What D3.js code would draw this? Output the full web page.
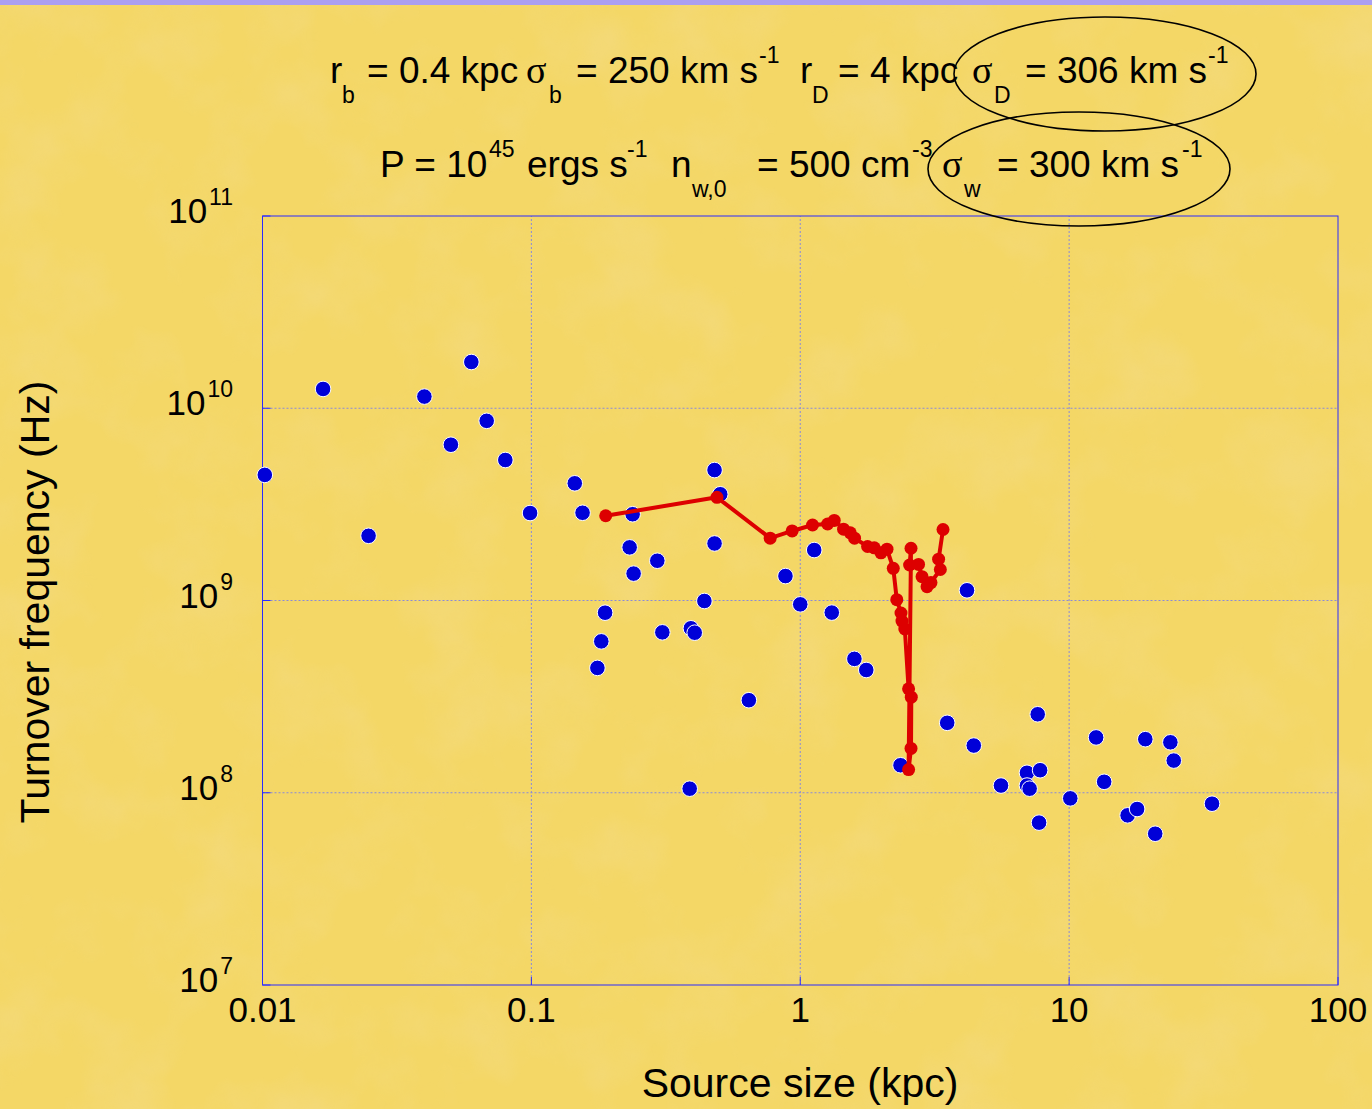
<!DOCTYPE html>
<html>
<head>
<meta charset="utf-8">
<script src="https://d3js.org/d3.v7.min.js"></script>
<style>
body { margin: 0; background: #f3d664; }
svg { display: block; }
text { font-family: "Liberation Sans", Arial, sans-serif; fill: #000; }
.sym { font-family: "Liberation Serif", "Times New Roman", serif; }
.frame { fill: none; stroke: #2a2aff; stroke-width: 1; }
.grid { stroke: #8a8ad8; stroke-width: 1; stroke-dasharray: 2,2; }
.tick { stroke: #2a2aff; stroke-width: 1; }
.circ { fill: none; stroke: #000; stroke-width: 1.6; }
</style>
</head>
<body>
<svg width="1372" height="1109"></svg>
<script>

// source size (kpc) and turnover frequency (Hz)
var obsSize = [0.0102, 0.0168, 0.0248, 0.040, 0.0502, 0.0598, 0.0682, 0.080, 0.0989, 0.145,
    0.155, 0.238, 0.232, 0.240, 0.294, 0.307, 0.188, 0.182, 0.176, 0.392,
    0.405, 0.440, 0.480, 0.504, 0.480, 0.644, 0.388, 0.881, 1.0, 1.127,
    1.31, 1.59, 1.76, 2.36, 4.17, 3.52, 4.42, 5.58, 6.97, 6.97,
    7.13, 7.64, 7.80, 7.73, 10.1, 12.6, 13.5, 16.5, 17.9, 19.2,
    20.9, 23.8, 24.5, 34.0];
var obsFreq = [4.5e9, 1.26e10, 2.17e9, 1.15e10, 6.46e9, 1.74e10, 8.6e9, 5.38e9, 2.85e9, 4.07e9,
    2.86e9, 2.81e9, 1.89e9, 1.38e9, 1.61e9, 6.83e8, 8.64e8, 6.13e8, 4.46e8, 7.17e8,
    6.8e8, 9.94e8, 4.77e9, 3.57e9, 1.98e9, 3.03e8, 1.05e8, 1.34e9, 9.55e8, 1.83e9,
    8.65e8, 4.97e8, 4.35e8, 1.39e8, 1.13e9, 2.31e8, 1.76e8, 1.09e8, 1.27e8, 1.09e8,
    1.05e8, 2.56e8, 1.31e8, 6.99e7, 9.35e7, 1.94e8, 1.14e8, 7.63e7, 8.23e7, 1.9e8,
    6.12e7, 1.83e8, 1.47e8, 8.77e7];

// model track
var modelSize = [0.189, 0.490, 0.773, 0.933, 1.111, 1.264, 1.338, 1.449, 1.535, 1.592,
    1.780, 1.885, 1.996, 2.102, 2.218, 2.286, 2.370, 2.39, 2.449, 2.529,
    2.588, 2.582, 2.529, 2.582, 2.551, 2.754, 2.838, 2.962, 3.063, 3.319,
    3.27, 3.396];
var modelFreq = [2.76e9, 3.44e9, 2.11e9, 2.30e9, 2.47e9, 2.50e9, 2.61e9, 2.35e9, 2.25e9, 2.11e9,
    1.91e9, 1.88e9, 1.77e9, 1.85e9, 1.47e9, 1.01e9, 8.61e8, 7.82e8, 7.11e8, 3.47e8,
    3.14e8, 1.70e8, 1.32e8, 1.87e9, 1.53e9, 1.54e9, 1.33e9, 1.18e9, 1.24e9, 1.45e9,
    1.64e9, 2.34e9];

var xTicks = [0.01, 0.1, 1, 10, 100];
var xTickLabels = ["0.01", "0.1", "1", "10", "100"];
var yTicks = [1e7, 1e8, 1e9, 1e10, 1e11];

// title pieces: text, kind (0 normal, 1 superscript, -1 subscript, 2 greek), left edge
var titleLine1 = [
  ["r", 0, 330], ["b", -1, 342], ["= 0.4 kpc", 0, 367], ["σ", 2, 526], ["b", -1, 549],
  ["= 250 km s", 0, 576], ["-1", 1, 759], ["r", 0, 800], ["D", -1, 812], ["= 4 kpc", 0, 838],
  ["σ", 2, 972], ["D", -1, 994], ["= 306 km s", 0, 1025], ["-1", 1, 1208]
];
var titleLine2 = [
  ["P = 10", 0, 380], ["45", 1, 489], ["ergs s", 0, 527], ["-1", 1, 627], ["n", 0, 671],
  ["w,0", -1, 692], ["= 500 cm", 0, 757], ["-3", 1, 912], ["σ", 2, 942], ["w", -1, 964],
  ["= 300 km s", 0, 997], ["-1", 1, 1182]
];

var svg = d3.select("svg"),
    width = +svg.attr("width"),
    height = +svg.attr("height");

// paper texture
var defs = svg.append("defs");
var f = defs.append("filter").attr("id", "paper")
    .attr("x", 0).attr("y", 0).attr("width", "100%").attr("height", "100%");
f.append("feTurbulence").attr("type", "fractalNoise")
    .attr("baseFrequency", "0.012").attr("numOctaves", 4).attr("seed", 7);
f.append("feColorMatrix").attr("type", "matrix")
    .attr("values", "0 0 0 0 0.90  0 0 0 0 0.72  0 0 0 0 0.28  1.6 0 0 0 -0.72");
svg.append("rect").attr("width", width).attr("height", height).attr("fill", "#f4d766");
svg.append("rect").attr("width", width).attr("height", height)
    .attr("filter", "url(#paper)").attr("opacity", 0.6);
svg.append("rect").attr("width", width).attr("height", 5).attr("fill", "#ab9ff0");

var x = d3.scaleLog().domain([0.01, 100]).range([262.5, 1338]);
var y = d3.scaleLog().domain([1e7, 1e11]).range([985, 216]);

// grid
svg.append("g").selectAll("line").data(yTicks.slice(1, -1)).enter().append("line")
    .attr("class", "grid")
    .attr("x1", x.range()[0]).attr("x2", x.range()[1])
    .attr("y1", function(d) { return y(d); }).attr("y2", function(d) { return y(d); });
svg.append("g").selectAll("line").data(xTicks.slice(1, -1)).enter().append("line")
    .attr("class", "grid")
    .attr("y1", y.range()[0]).attr("y2", y.range()[1])
    .attr("x1", function(d) { return x(d); }).attr("x2", function(d) { return x(d); });

// short ticks
svg.append("g").selectAll("line").data(yTicks).enter().append("line")
    .attr("class", "tick")
    .attr("x1", x.range()[0]).attr("x2", x.range()[0] + 8)
    .attr("y1", function(d) { return y(d); }).attr("y2", function(d) { return y(d); });
svg.append("g").selectAll("line").data(xTicks).enter().append("line")
    .attr("class", "tick")
    .attr("y1", y.range()[0]).attr("y2", y.range()[0] - 8)
    .attr("x1", function(d) { return x(d); }).attr("x2", function(d) { return x(d); });

svg.append("rect").attr("class", "frame")
    .attr("x", x.range()[0]).attr("y", y.range()[1])
    .attr("width", x.range()[1] - x.range()[0])
    .attr("height", y.range()[0] - y.range()[1]);

// tick labels
svg.append("g").selectAll("text").data(xTicks).enter().append("text")
    .attr("x", function(d) { return x(d); })
    .attr("y", 1022)
    .attr("text-anchor", "middle")
    .style("font-size", "35px")
    .text(function(d, i) { return xTickLabels[i]; });

var yl = svg.append("g").selectAll("text").data(yTicks).enter().append("text")
    .attr("x", 233)
    .attr("y", function(d) { return y(d) + 7; })
    .attr("text-anchor", "end")
    .style("font-size", "35px");
yl.append("tspan").text("10");
yl.append("tspan").attr("dx", 2).attr("dy", -18).style("font-size", "23px")
    .text(function(d) { return Math.round(Math.log10(d)); });

// axis titles
svg.append("text")
    .attr("x", 800).attr("y", 1097)
    .attr("text-anchor", "middle")
    .style("font-size", "41px")
    .text("Source size (kpc)");
svg.append("text")
    .attr("transform", "translate(49,602) rotate(-90)")
    .attr("text-anchor", "middle")
    .style("font-size", "41px")
    .text("Turnover frequency (Hz)");

function titleLine(parts, base) {
  var g = svg.append("g");
  parts.forEach(function(p) {
    var shift = p[1] === 1 ? -20 : (p[1] === -1 ? 20 : 0);
    var t = g.append("text").attr("x", p[2]).attr("y", base + shift).text(p[0]);
    if (p[1] === 1 || p[1] === -1) t.style("font-size", "23px");
    else if (p[1] === 2) t.attr("class", "sym").style("font-size", "38px");
    else t.style("font-size", "37px");
  });
}
titleLine(titleLine1, 83);
titleLine(titleLine2, 177);

svg.append("ellipse").attr("class", "circ")
    .attr("cx", 1105).attr("cy", 74).attr("rx", 151).attr("ry", 57);
svg.append("ellipse").attr("class", "circ")
    .attr("cx", 1079).attr("cy", 169).attr("rx", 151).attr("ry", 57);

// observed sources
svg.append("g").selectAll("circle").data(obsSize).enter().append("circle")
    .attr("cx", function(d) { return x(d); })
    .attr("cy", function(d, i) { return y(obsFreq[i]); })
    .attr("r", 7.8)
    .attr("fill", "#0000d8")
    .attr("stroke", "#ffffff")
    .attr("stroke-width", 1);

// model track
var track = modelSize.map(function(d, i) { return [d, modelFreq[i]]; });
svg.append("path")
    .datum(track)
    .attr("fill", "none")
    .attr("stroke", "#dd0000")
    .attr("stroke-width", 4)
    .attr("stroke-linejoin", "round")
    .attr("d", d3.line().x(function(d) { return x(d[0]); }).y(function(d) { return y(d[1]); }));
svg.append("g").selectAll("circle").data(track).enter().append("circle")
    .attr("cx", function(d) { return x(d[0]); })
    .attr("cy", function(d) { return y(d[1]); })
    .attr("r", 6.5)
    .attr("fill", "#dd0000");

</script>
</body>
</html>
